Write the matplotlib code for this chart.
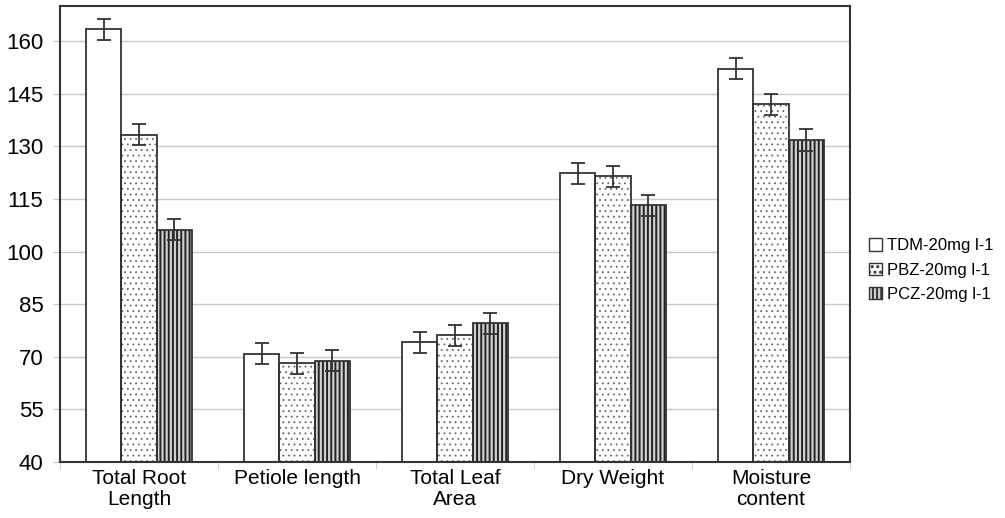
import matplotlib
matplotlib.use("Agg")
import matplotlib.pyplot as plt
import numpy as np

plt.rcParams['font.family'] = ['Liberation Sans', 'DejaVu Sans']

categories = ["Total Root\nLength", "Petiole length", "Total Leaf\nArea", "Dry Weight", "Moisture\ncontent"]
series_names = ["TDM-20mg l-1", "PBZ-20mg l-1", "PCZ-20mg l-1"]
tdm = [163.4, 70.9, 74.1, 122.3, 152.1]
pbz = [133.3, 68.2, 76.1, 121.4, 142.0]
pcz = [106.2, 68.9, 79.5, 113.2, 131.8]
tdm_err = [3, 3, 3, 3, 3]
pbz_err = [3, 3, 3, 3, 3]
pcz_err = [3, 3, 3, 3, 3]
yticks = [40, 55, 70, 85, 100, 115, 130, 145, 160]

fig = plt.figure(figsize=(10.05, 5.18), dpi=100)
ax = fig.add_axes([60/1005, 1-462/518, 790/1005, 456/518])

edge = '#333333'
x = np.arange(len(categories))
w = 0.222
styles = [dict(facecolor='white', hatch=None, hcolor=edge, hlw=1.0),
          dict(facecolor='white', hatch='...', hcolor='#666666', hlw=0.6),
          dict(facecolor='#d0d0d0', hatch='||||', hcolor='#222222', hlw=1.4)]
vals = [tdm, pbz, pcz]
errs = [tdm_err, pbz_err, pcz_err]
handles = []
for i, (v, e, st) in enumerate(zip(vals, errs, styles)):
    pos = x + (i - 1) * w
    heights = np.array(v) - 40
    plt.rcParams['hatch.linewidth'] = st['hlw']
    ax.bar(pos, heights, width=w, bottom=40, facecolor=st['facecolor'],
           hatch=st['hatch'], edgecolor=st['hcolor'], linewidth=0, zorder=2)
    ax.bar(pos, heights, width=w, bottom=40, fill=False, edgecolor=edge,
           linewidth=1.3, zorder=2.5)
    ax.errorbar(pos, v, yerr=e, fmt='none', ecolor=edge,
                elinewidth=1.3, capsize=5, capthick=1.3, zorder=3)
    plt.rcParams['hatch.linewidth'] = st['hlw']
    h = plt.Rectangle((0, 0), 1, 1, facecolor=st['facecolor'], hatch=st['hatch'],
                      edgecolor=edge, linewidth=1.0)
    handles.append(h)

ax.set_ylim(40, 170)
ax.set_xlim(-0.5, len(categories) - 0.5)
ax.set_yticks(yticks)
ax.yaxis.grid(True, color='#c8c8c8', linewidth=1.0, zorder=0)
ax.set_axisbelow(True)
ax.set_xticks(x)
ax.set_xticklabels(categories, fontsize=15, linespacing=1.12)
ax.set_xticks(np.arange(len(categories) + 1) - 0.5, minor=True)
ax.tick_params(axis='x', which='major', length=0, pad=5)
ax.tick_params(axis='x', which='minor', length=5, color='#c8c8c8')
ax.tick_params(axis='y', length=5, color='#c8c8c8', labelsize=16, pad=7)
for sp in ax.spines.values():
    sp.set_color(edge)
    sp.set_linewidth(1.5)

fig.legend(handles=handles, labels=series_names, loc='center left',
           bbox_to_anchor=(869/1005, 1-270/518), frameon=False, fontsize=12,
           handlelength=0.75, handleheight=0.75, handletextpad=0.35,
           labelspacing=0.55, borderaxespad=0, borderpad=0)

fig.savefig('out.png', dpi=100)
